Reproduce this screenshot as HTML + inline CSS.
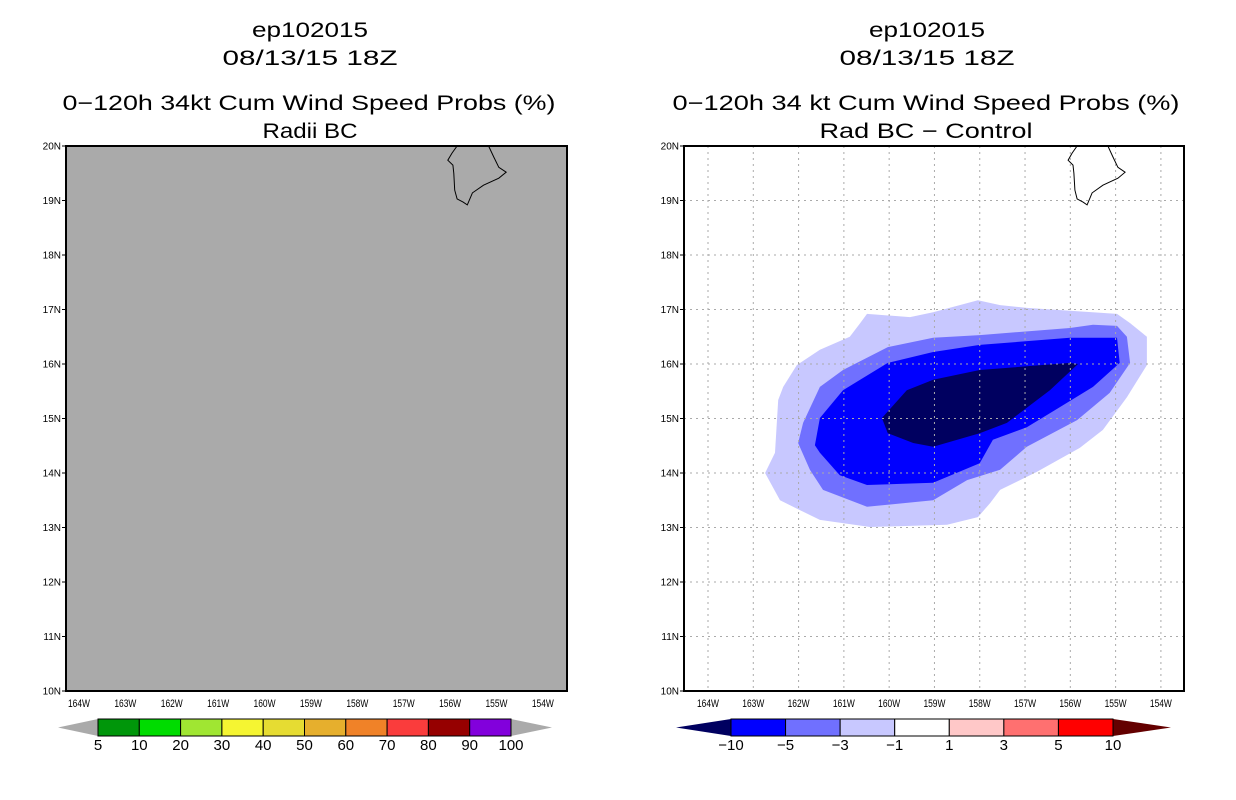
<!DOCTYPE html>
<html><head><meta charset="utf-8"><style>
body{margin:0;background:#fff;width:1236px;height:800px;overflow:hidden;font-family:"Liberation Sans",sans-serif}
svg{display:block}
</style></head><body>
<svg id="chart" width="1236" height="800" xmlns="http://www.w3.org/2000/svg">
<g font-family="Liberation Sans, sans-serif" font-size="21" text-anchor="middle" fill="#000" lengthAdjust="spacingAndGlyphs">
<text x="310" y="37" textLength="116" lengthAdjust="spacingAndGlyphs">ep102015</text>
<text x="310" y="65" textLength="175" lengthAdjust="spacingAndGlyphs">08/13/15 18Z</text>
<text x="309" y="110" textLength="493" lengthAdjust="spacingAndGlyphs">0−120h 34kt Cum Wind Speed Probs (%)</text>
<text x="310" y="138" textLength="95" lengthAdjust="spacingAndGlyphs">Radii BC</text>
<text x="927" y="37" textLength="116" lengthAdjust="spacingAndGlyphs">ep102015</text>
<text x="927" y="65" textLength="175" lengthAdjust="spacingAndGlyphs">08/13/15 18Z</text>
<text x="926" y="110" textLength="507" lengthAdjust="spacingAndGlyphs">0−120h 34 kt Cum Wind Speed Probs (%)</text>
<text x="926" y="138" textLength="213" lengthAdjust="spacingAndGlyphs">Rad BC − Control</text>
</g>
<g id="left"></g>
<g id="right"></g>
<g id="cbars"></g>
</svg>
<script>
const lonTicks=[-164,-163,-162,-161,-160,-159,-158,-157,-156,-155,-154];
const latTicks=[10,11,12,13,14,15,16,17,18,19,20];
const contourLevels=[-10,-5,-3,-1];
const contourColors=["#000060","#0000ff","#7070ff","#c8c8ff"];
const poly_m1=[[-160.49,16.92],[-159.54,16.86],[-159.03,16.95],[-158.04,17.17],[-157.55,17.08],[-156.96,17.03],[-154.97,16.92],[-154.68,16.75],[-154.31,16.50],[-154.31,15.98],[-154.75,15.39],[-155.28,14.79],[-155.79,14.46],[-156.74,14.02],[-157.55,13.69],[-157.77,13.45],[-158.04,13.19],[-158.72,13.05],[-160.42,13.01],[-161.53,13.14],[-162.12,13.38],[-162.41,13.50],[-162.74,14.00],[-162.52,14.37],[-162.45,15.34],[-162.34,15.58],[-162.04,15.98],[-161.53,16.26],[-160.87,16.50],[-160.64,16.75]];
const poly_m3=[[-162.01,14.55],[-161.90,14.92],[-161.53,15.58],[-161.02,15.89],[-160.03,16.31],[-159.03,16.48],[-158.00,16.53],[-156.01,16.66],[-155.50,16.72],[-154.97,16.70],[-154.75,16.50],[-154.68,16.02],[-155.13,15.47],[-155.85,14.97],[-156.96,14.48],[-157.55,14.06],[-158.28,13.87],[-159.03,13.50],[-160.49,13.38],[-161.46,13.69],[-161.75,14.06]];
const poly_m5=[[-161.64,14.51],[-161.53,15.01],[-161.02,15.52],[-160.03,16.02],[-159.03,16.22],[-158.00,16.35],[-156.01,16.48],[-154.97,16.48],[-154.91,16.02],[-155.50,15.58],[-156.23,15.21],[-156.96,14.84],[-157.71,14.61],[-158.00,14.18],[-159.03,13.82],[-160.49,13.78],[-161.09,13.96],[-161.53,14.37]];
const poly_m10=[[-160.16,15.01],[-159.61,15.52],[-159.03,15.71],[-158.00,15.89],[-156.01,16.02],[-155.83,16.00],[-156.45,15.52],[-157.18,15.06],[-157.40,14.92],[-158.00,14.73],[-159.03,14.48],[-159.47,14.55],[-160.03,14.73]];
const island=[[-155.85,20.0],[-155.96,19.87],[-156.05,19.74],[-155.94,19.65],[-155.92,19.50],[-155.90,19.19],[-155.85,19.03],[-155.72,18.97],[-155.63,18.92],[-155.52,19.14],[-155.28,19.28],[-154.95,19.41],[-154.79,19.52],[-154.95,19.61],[-155.06,19.80],[-155.17,20.0]];
const leftLevels=["5","10","20","30","40","50","60","70","80","90","100"];
const leftColors=["#00960a","#00dc00","#a0e632","#f5f532","#e6dc32","#e6af2d","#f08228","#fa3c3c","#960000","#8200dc"];
const rightLevels=["−10","−5","−3","−1","1","3","5","10"];
const rightColors=["#0000ff","#7070ff","#c8c8ff","#ffffff","#ffc8c8","#ff7070","#ff0000"];

const NS="http://www.w3.org/2000/svg";
function mk(tag,attrs,parent){const e=document.createElementNS(NS,tag);for(const k in attrs)e.setAttribute(k,attrs[k]);parent.appendChild(e);return e;}
function panel(g,x0,x1,lon0,lon1,fill,side){
  const y0=146,y1=691;
  const X=l=>x0+(l-lon0)/(lon1-lon0)*(x1-x0);
  const Y=t=>y1-(t-10)/10*(y1-y0);
  const bg=mk('rect',{x:x0,y:y0,width:x1-x0,height:y1-y0,fill:fill},g);
  
  
  const clipId='clip'+side;
  const cp=mk('clipPath',{id:clipId},g);mk('rect',{x:x0,y:y0,width:x1-x0,height:y1-y0},cp);
  const inner=mk('g',{'clip-path':'url(#'+clipId+')'},g);
  if(side==='right'){
    const polys=[poly_m1,poly_m3,poly_m5,poly_m10];
    const cols=[contourColors[3],contourColors[2],contourColors[1],contourColors[0]];
    polys.forEach((p,i)=>{
      const e=mk('polygon',{points:p.map(d=>X(d[0]).toFixed(1)+','+Y(d[1]).toFixed(1)).join(' '),fill:cols[i]},inner);
      
      
    });
    lonTicks.forEach(l=>{mk('line',{x1:X(l),x2:X(l),y1:y0,y2:y1,stroke:'#aaa','stroke-dasharray':'2,4'},inner);});
    latTicks.forEach(t=>{mk('line',{x1:x0,x2:x1,y1:Y(t),y2:Y(t),stroke:'#aaa','stroke-dasharray':'2,4'},inner);});
  }
  const isl=mk('polyline',{points:island.map(d=>X(d[0]).toFixed(1)+','+Y(d[1]).toFixed(1)).join(' '),fill:'none',stroke:'#000','stroke-width':1},inner);
  
  
  const fr=mk('rect',{x:x0,y:y0,width:x1-x0,height:y1-y0,fill:'none',stroke:'#000','stroke-width':2},g);
  
  
  lonTicks.forEach(l=>{
    const t=mk('text',{x:X(l),y:y1+16,'font-size':11,'text-anchor':'middle','font-family':'Liberation Sans, sans-serif',textLength:22,lengthAdjust:'spacingAndGlyphs'},g);
    t.textContent=Math.abs(l)+'W';
    
    
  });
  latTicks.forEach(v=>{
    mk('line',{x1:x0-4,x2:x0,y1:Y(v),y2:Y(v),stroke:'#000'},g);
    const t=mk('text',{x:x0-5,y:Y(v)+3.5,'font-size':10,'text-anchor':'end','font-family':'Liberation Sans, sans-serif'},g);
    t.textContent=v+'N';
    
    
  });
}
panel(document.getElementById('left'),66,567,-164.28,-153.48,'#aaaaaa','left');
panel(document.getElementById('right'),684,1184,-164.53,-153.49,'#ffffff','right');

function cbar(g,b0,b1,t0,t1,labels,colors,lc,rc,name){
  const y0=719,y1=736,ym=(y0+y1)/2,n=colors.length,w=(b1-b0)/n;
  const l=mk('polygon',{points:`${t0},${ym} ${b0},${y0} ${b0},${y1}`,fill:lc},g);
  
  
  const r=mk('polygon',{points:`${t1},${ym} ${b1},${y0} ${b1},${y1}`,fill:rc},g);
  
  
  colors.forEach((c,i)=>{
    const e=mk('rect',{x:b0+i*w,y:y0,width:w,height:y1-y0,fill:c,stroke:'#000','stroke-width':1},g);
    
    
  });
  labels.forEach((s,i)=>{
    const t=mk('text',{x:b0+i*w,y:y1+14,'font-size':15,'text-anchor':'middle','font-family':'Liberation Sans, sans-serif'},g);
    t.textContent=s;
    
    
  });
}
const cb=document.getElementById('cbars');
cbar(cb,98,511,58,552,leftLevels,leftColors,'#aaaaaa','#aaaaaa','left-colorbar');
cbar(cb,731,1113,676,1171,rightLevels,rightColors,'#000060','#640000','right-colorbar');
</script>
</body></html>
